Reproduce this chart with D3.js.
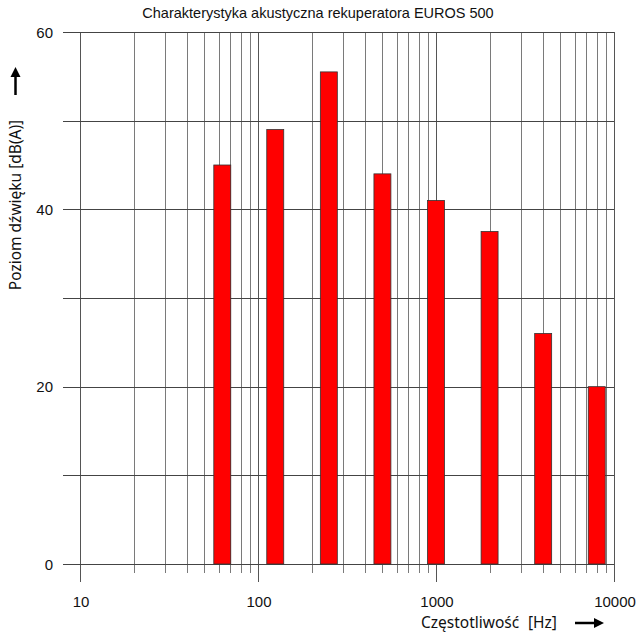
<!DOCTYPE html>
<html><head><meta charset="utf-8">
<script src="https://cdn.jsdelivr.net/npm/d3@7"></script>
<style>body{margin:0;background:#fff}svg{display:block}</style>
</head><body>
<svg id="c" width="640" height="643"></svg>
<script>
const title = "Charakterystyka akustyczna rekuperatora EUROS 500";
const yTitle = "Poziom dźwięku [dB(A)]";
const xTitle = "Częstotliwość";
const xUnit = "[Hz]";
const frequencies = [63, 125, 250, 500, 1000, 2000, 4000, 8000];
const levels = [45, 49, 55.5, 44, 41, 37.5, 26, 20];
const yTicks = [0, 20, 40, 60];
const yGrid = [0, 10, 20, 30, 40, 50, 60];
const xMajor = [10, 100, 1000, 10000];
const xTickLabels = ["10", "100", "1000", "10000"];

const svg = d3.select("#c");
const x = d3.scaleLog().domain([10, 10000]).range([80, 614]);
const y = d3.scaleLinear().domain([0, 60]).range([564, 32]);

const xGrid = [];
[10, 100, 1000].forEach(d => { for (let k = 1; k < 10; k++) xGrid.push(d * k); });
xGrid.push(10000);

svg.append("g").selectAll("line").data(xGrid).join("line")
  .attr("x1", d => Math.round(x(d)) + 0.5).attr("x2", d => Math.round(x(d)) + 0.5)
  .attr("y1", y(60))
  .attr("y2", d => xMajor.includes(d) ? 582 : 573)
  .attr("stroke", d => xMajor.includes(d) ? "#555" : "#7a7a7a").attr("stroke-width", 1);

svg.append("g").selectAll("line").data(yGrid).join("line")
  .attr("x1", 63).attr("x2", x(10000))
  .attr("y1", d => Math.round(y(d)) + 0.5).attr("y2", d => Math.round(y(d)) + 0.5)
  .attr("stroke", "#444").attr("stroke-width", 1);

const bw = 1.116;
svg.append("g").selectAll("rect").data(frequencies).join("rect")
  .attr("x", d => x(d / bw))
  .attr("width", d => x(d * bw) - x(d / bw))
  .attr("y", (d, i) => y(levels[i]))
  .attr("height", (d, i) => y(0) - y(levels[i]))
  .attr("fill", "#ff0000").attr("stroke", "#333").attr("stroke-width", 0.8);

const sans = "'Liberation Sans', Arial, Helvetica, sans-serif";
const human = "'Noto Sans', 'DejaVu Sans', sans-serif";

svg.append("g").selectAll("text").data(yTicks).join("text")
  .attr("x", 53).attr("y", d => y(d) + 5.5)
  .attr("text-anchor", "end")
  .attr("font-family", sans).attr("font-size", 15)
  .attr("fill", "#111").text(d => d);

svg.append("g").selectAll("text").data(xMajor).join("text")
  .attr("x", d => x(d) + 1).attr("y", 607)
  .attr("text-anchor", "middle")
  .attr("font-family", sans).attr("font-size", 15)
  .attr("fill", "#111").text((d, i) => xTickLabels[i]);

svg.append("text").attr("x", 318).attr("y", 18).attr("text-anchor", "middle")
  .attr("font-family", sans).attr("font-size", 14.5)
  .attr("fill", "#111").text(title);

svg.append("text").attr("transform", "translate(21,205) rotate(-90)")
  .attr("text-anchor", "middle")
  .attr("font-family", human).attr("font-size", 15.5)
  .attr("fill", "#111").text(yTitle);

svg.append("text").attr("x", 421).attr("y", 628)
  .attr("font-family", human).attr("font-size", 15.5)
  .attr("fill", "#111").text(xTitle);
svg.append("text").attr("x", 528).attr("y", 628)
  .attr("font-family", human).attr("font-size", 15.5)
  .attr("fill", "#111").text(xUnit);

svg.append("line").attr("x1", 15.5).attr("x2", 15.5).attr("y1", 95).attr("y2", 76)
  .attr("stroke", "#000").attr("stroke-width", 2.5);
svg.append("path").attr("d", "M10.5,77 L15.5,67 L20.5,77 Z").attr("fill", "#000");
svg.append("line").attr("x1", 575).attr("x2", 595).attr("y1", 623).attr("y2", 623)
  .attr("stroke", "#000").attr("stroke-width", 2.5);
svg.append("path").attr("d", "M594,618 L604,623 L594,628 Z").attr("fill", "#000");
</script>
</body></html>
